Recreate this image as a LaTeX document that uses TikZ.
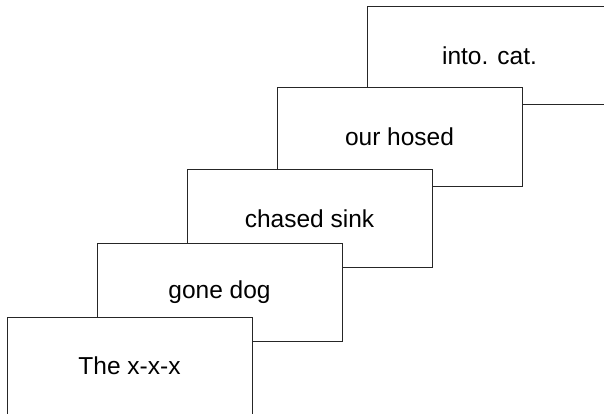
\documentclass[tikz,border=0pt]{standalone}
\usepackage{fontspec}
\setmainfont{Liberation Sans}
\begin{document}
\begin{tikzpicture}[x=1pt,y=-1pt,
  frame/.style={draw=black!85, line width=1pt, fill=white, rectangle,
    anchor=north west, minimum width=245pt, minimum height=98pt,
    inner sep=0pt, outer sep=0pt, font=\fontsize{24.5}{29}\selectfont}]
  \useasboundingbox (0,0) rectangle (604,414);
  \clip (0,0) rectangle (604,414);
  % stacked frames, drawn from the back to the front
  \node[frame] (f5) at (367,6.5)   {into. cat.};
  \node[frame] (f4) at (277,88)    {our hosed};
  \node[frame] (f3) at (187,169.5) {chased sink};
  \node[frame] (f2) at (97,243.5)  {gone dog};
  \node[frame] (f1) at (7,317)     {The x-x-x};
\end{tikzpicture}
\end{document}
